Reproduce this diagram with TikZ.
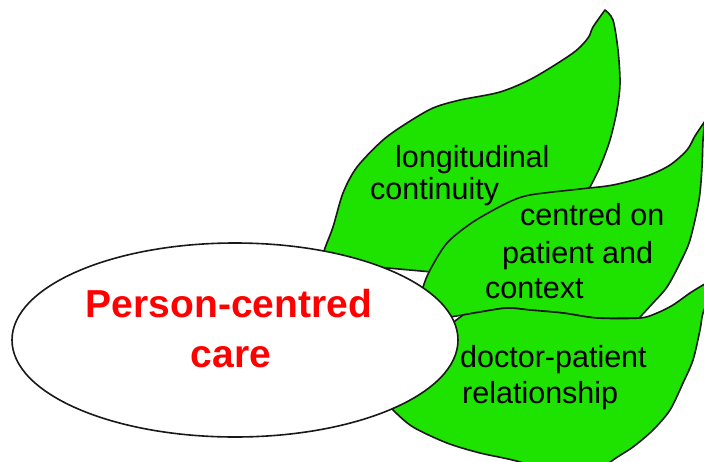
\documentclass[tikz,border=0pt]{standalone}
\usepackage{fontspec}
\setmainfont{Liberation Sans}
\usetikzlibrary{shapes.geometric}
\definecolor{leafgreen}{RGB}{30,226,0}
\definecolor{edgecol}{RGB}{25,25,25}
\begin{document}
\begin{tikzpicture}[x=1pt,y=-1pt,
  leaf/.style={fill=leafgreen, draw=edgecol, line width=1.6pt, line join=round},
  lbl/.style={anchor=base west, inner sep=0pt, font=\fontsize{30.5}{36}\selectfont},
  titlelbl/.style={anchor=base, inner sep=0pt, text=red, font=\fontsize{39}{46}\selectfont\bfseries},
  hub/.style={ellipse, draw=edgecol, fill=white, line width=1.6pt, minimum width=446pt, minimum height=194pt, inner sep=0pt}]
\clip (0,0) rectangle (704,461);
\fill[white] (0,0) rectangle (704,461);
% leaf 1
\path[leaf] plot[smooth, tension=0.5] coordinates {(605,10) (593,27) (588,38) (573,53) (533,78) (500,92) (460,100) (433,108) (407,123) (383,140) (357,167) (343,193) (333,227) (325,248) (321,262)}
  -- (432,272) -- (590,187)
  -- plot[smooth, tension=0.5] coordinates {(590,187) (600,167) (610,140) (617,110) (620,83) (618,50) (613,20) (605,10)} -- cycle;
% leaf 2
\path[leaf] plot[smooth, tension=0.5] coordinates {(420,300) (423,287) (430,270) (447,243) (473,222) (507,203) (530,195) (580,189) (613,185) (647,176) (670,165) (687,150) (695,136) (705,121)}
  -- plot[smooth, tension=0.5] coordinates {(705,121) (703,140) (702,167) (699,200) (690,240) (680,263) (667,287) (653,303) (640,317)}
  -- plot[smooth, tension=0.5] coordinates {(640,318) (597,318) (563,313) (530,310) (507,308) (480,312) (463,315)}
  -- (430,320) -- cycle;
% leaf 3
\path[leaf] plot[smooth, tension=0.5] coordinates {(463,315) (480,312) (507,308) (530,310) (563,313) (597,318) (640,318) (657,313) (673,305) (690,293) (703,285) (712,280)}
  -- plot[smooth, tension=0.5] coordinates {(712,290) (703,313) (700,330) (693,360) (683,383) (670,410) (653,430) (633,447) (613,460) (590,478)}
  -- plot[smooth, tension=0.5] coordinates {(560,478) (520,462) (480,453) (447,443) (413,427) (393,410) (380,395)}
  -- (430,340) -- cycle;
% central ellipse
\node[hub] (pcc) at (235,340) {};
\node[titlelbl] (pcca) at (229,317) {Person-centred};
\node[titlelbl] (pccb) at (231,367) {care};
% leaf labels
\node[lbl] (t1a) at (395,167) {longitudinal};
\node[lbl] (t1b) at (370,199) {continuity};
\node[lbl] (t2a) at (520,225) {centred on};
\node[lbl] (t2b) at (502,263) {patient and};
\node[lbl] (t2c) at (485,298) {context};
\node[lbl] (t3a) at (460,367) {doctor-patient};
\node[lbl] (t3b) at (462,403) {relationship};
\end{tikzpicture}
\end{document}
